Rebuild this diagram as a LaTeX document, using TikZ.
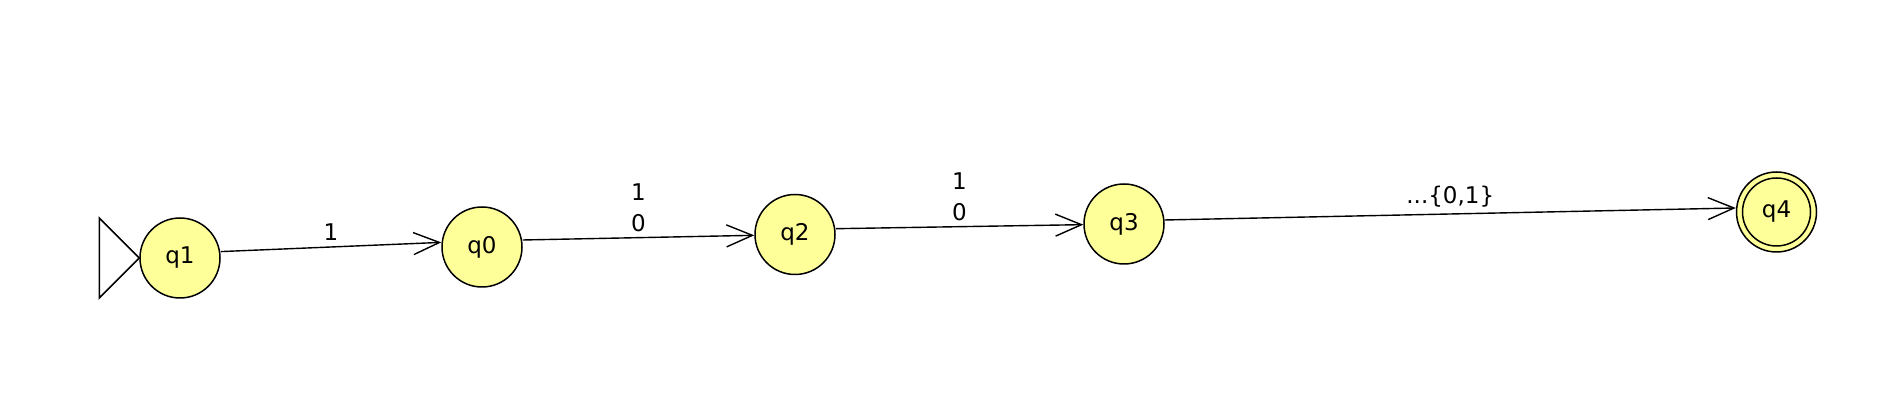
\documentclass[tikz,border=0pt]{standalone}
\usepackage{fontspec}
\setmainfont{DejaVu Sans}
\usepackage{tikz}
\usetikzlibrary{
  arrows.meta,
  calc,
  positioning
}
\definecolor{stateyellow}{RGB}{255,255,153}

\begin{document}
\begin{tikzpicture}[x=1pt, y=1pt, font=\fontsize{11.5}{15.5}\selectfont,
  state/.style={circle, draw, line width=0.75pt, fill=stateyellow, minimum size=40pt, inner sep=0pt},
  trans/.style={line width=0.7pt, -{Straight Barb[length=13pt,width=11pt,line width=0.7pt]}},
  translabel/.style={above=2.8pt, inner sep=0pt, align=center}]
  \useasboundingbox (0,0) rectangle (951,200);
  % States
  \node[state] (q1) at (90,71) {q1};
  \node[state] (q0) at (241,76.5) {q0};
  \node[state] (q2) at (397.5,82.75) {q2};
  \node[state] (q3) at (562,88) {q3};
  \node[state] (q4) at (888.25,94) {q4};
  \draw[line width=0.75pt] (q4) circle (17pt);
  % Start marker
  \draw[line width=0.75pt] (q1.west) -- ++(-20,20) -- ++(0,-40) -- cycle;
  % Transitions
  \draw[trans] ([yshift=3.2pt]q1.east) -- node[translabel] {1} ([yshift=2.3pt]q0.west);
  \draw[trans] ([yshift=3.5pt]q0.east) -- node[translabel] {1\\0} (q2);
  \draw[trans] ([yshift=2.9pt]q2.east) -- node[translabel] {1\\0} (q3);
  \draw[trans] ([yshift=2pt]q3.east) -- node[translabel] {...\{0,1\}} ([yshift=2pt]q4.west);
\end{tikzpicture}
\end{document}
